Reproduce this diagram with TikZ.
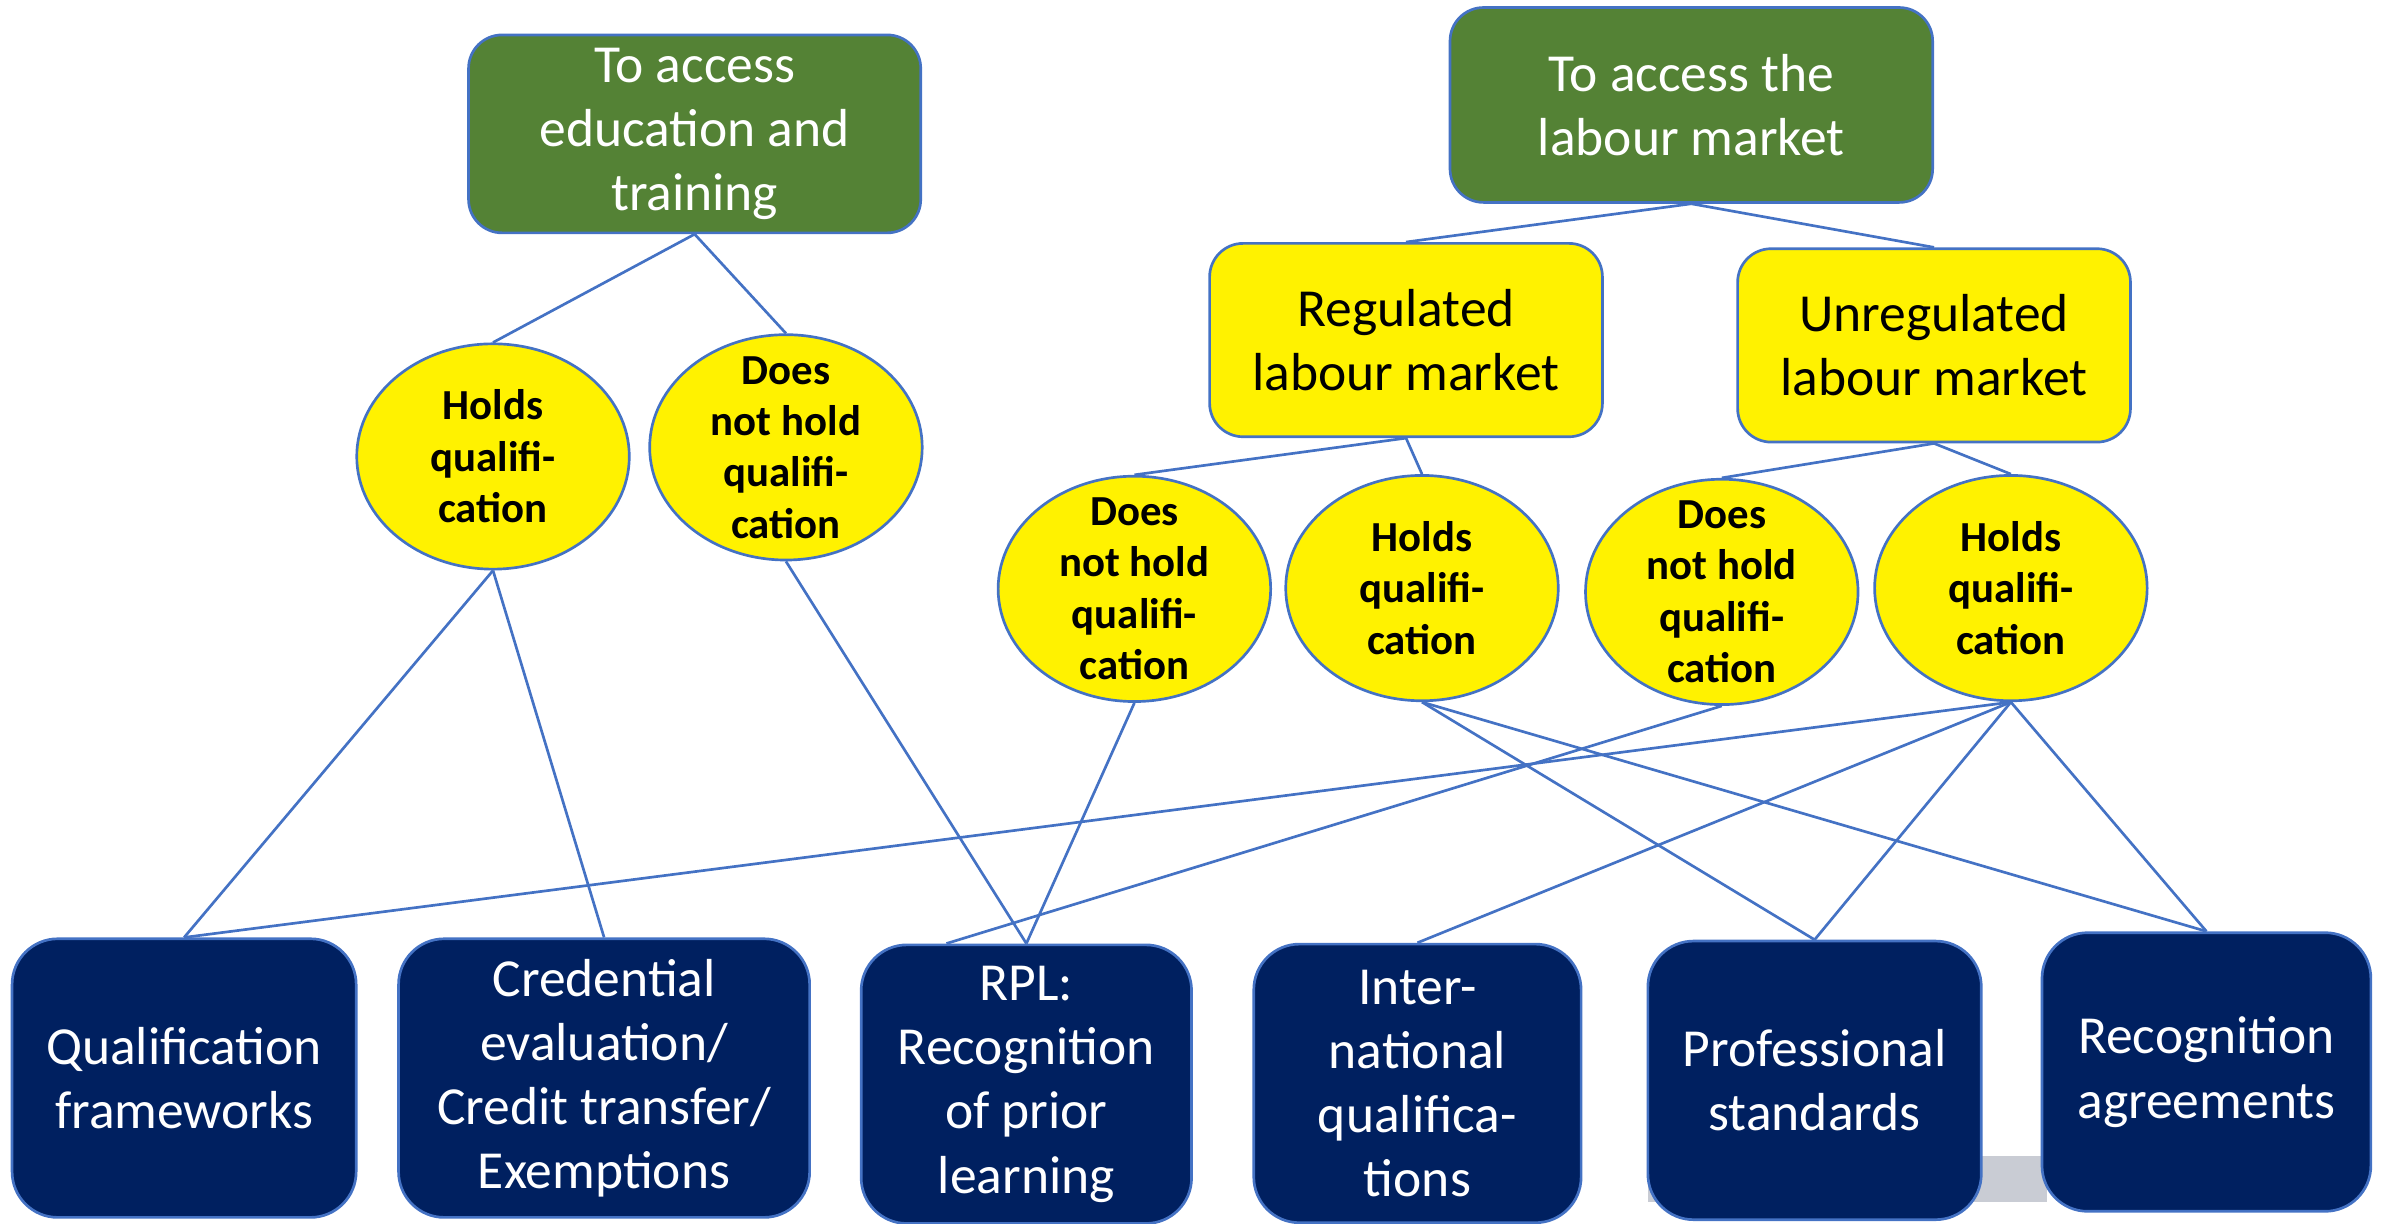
\documentclass[tikz,border=0pt]{standalone}
\usepackage{fontspec}
\setmainfont{Carlito}
\usepackage{tikz}
\usetikzlibrary{shapes.geometric,calc}

\definecolor{accgreen}{HTML}{548235}
\definecolor{accnavy}{HTML}{002060}
\definecolor{accblue}{HTML}{4472C4}
\definecolor{accgray}{HTML}{C9CCD4}

\tikzset{
	greenbox/.style={draw=accblue, line width=0.5pt, fill=accgreen, text=white, rounded corners=0.22cm, align=center, inner sep=0pt, font=\fontsize{10}{12}\selectfont},
	marketbox/.style={draw=accblue, line width=0.5pt, fill=yellow, text=black, rounded corners=0.22cm, align=center, inner sep=0pt, minimum width=2.58cm, minimum height=1.27cm, font=\fontsize{10}{12}\selectfont},
	holdell/.style={ellipse, draw=accblue, line width=0.5pt, fill=yellow, text=black, align=center, inner xsep=0pt, inner ysep=-4.5pt, minimum width=1.79cm, minimum height=1.48cm, font=\fontsize{8}{9.6}\selectfont\bfseries},
	toolbox/.style={draw=accblue, line width=0.5pt, fill=accnavy, text=white, rounded corners=0.3cm, align=center, inner sep=0pt, minimum height=1.83cm, font=\fontsize{10}{12}\selectfont},
	link/.style={draw=accblue, line width=0.5pt}
}

\begin{document}
\begin{tikzpicture}[x=0.01cm, y=-0.01cm]
	\useasboundingbox (0,0) rectangle (1568,804);
	
	\fill[accgray] (1083,760) rectangle (1345,790);
	
	\node[greenbox, minimum width=2.97cm, minimum height=1.30cm] (educ) at (456.5,88) {To access\\education and\\training};
	\node[greenbox, minimum width=3.17cm, minimum height=1.28cm] (labour) at (1111.5,69) {To access the\\labour market};
	
	\node[marketbox] (reg) at (924,223.5) {Regulated\\labour market};
	\node[marketbox] (unreg) at (1271,227) {Unregulated\\labour market};
	
	\node[holdell] (eduhold) at (324,300) {Holds\\qualifi-\\cation};
	\node[holdell] (edunot) at (516.5,294) {Does\\not hold\\qualifi-\\cation};
	\node[holdell] (regnot) at (745.5,387) {Does\\not hold\\qualifi-\\cation};
	\node[holdell] (reghold) at (934.5,386.5) {Holds\\qualifi-\\cation};
	\node[holdell] (unregnot) at (1131.5,389) {Does\\not hold\\qualifi-\\cation};
	\node[holdell] (unreghold) at (1321.5,386.5) {Holds\\qualifi-\\cation};
	
	\node[toolbox, minimum width=2.26cm] (qframe) at (121,708.5) {Qualification\\frameworks};
	\node[toolbox, minimum width=2.70cm] (cred) at (397,708.5) {Credential\\evaluation/\\Credit transfer/\\Exemptions};
	\node[toolbox, minimum width=2.17cm] (rpl) at (674.5,712.5) {RPL:\\Recognition\\of prior\\learning};
	\node[toolbox, minimum width=2.15cm] (intl) at (931.5,712) {Inter-\\national\\qualifica-\\tions};
	\node[toolbox, minimum width=2.19cm] (prof) at (1192.5,710) {Professional\\standards};
	\node[toolbox, minimum width=2.16cm] (agree) at (1450,704.5) {Recognition\\agreements};
	
	\coordinate (rplleft) at ($(rpl.north west)!0.26!(rpl.north east)$);
	
	\draw[link] (educ.south) -- (eduhold.north);
	\draw[link] (educ.south) -- (edunot.north);
	\draw[link] (labour.south) -- (reg.north);
	\draw[link] (labour.south) -- (unreg.north);
	\draw[link] (reg.south) -- (regnot.north);
	\draw[link] (reg.south) -- (reghold.north);
	\draw[link] (unreg.south) -- (unregnot.north);
	\draw[link] (unreg.south) -- (unreghold.north);
	
	\draw[link] (eduhold.south) -- (qframe.north);
	\draw[link] (eduhold.south) -- (cred.north);
	\draw[link] (edunot.south) -- (rpl.north);
	\draw[link] (regnot.south) -- (rpl.north);
	\draw[link] (reghold.south) -- (prof.north);
	\draw[link] (reghold.south) -- (agree.north);
	\draw[link] (unregnot.south) -- (rplleft);
	\draw[link] (unreghold.south) -- (qframe.north);
	\draw[link] (unreghold.south) -- (intl.north);
	\draw[link] (unreghold.south) -- (prof.north);
	\draw[link] (unreghold.south) -- (agree.north);
\end{tikzpicture}
\end{document}
